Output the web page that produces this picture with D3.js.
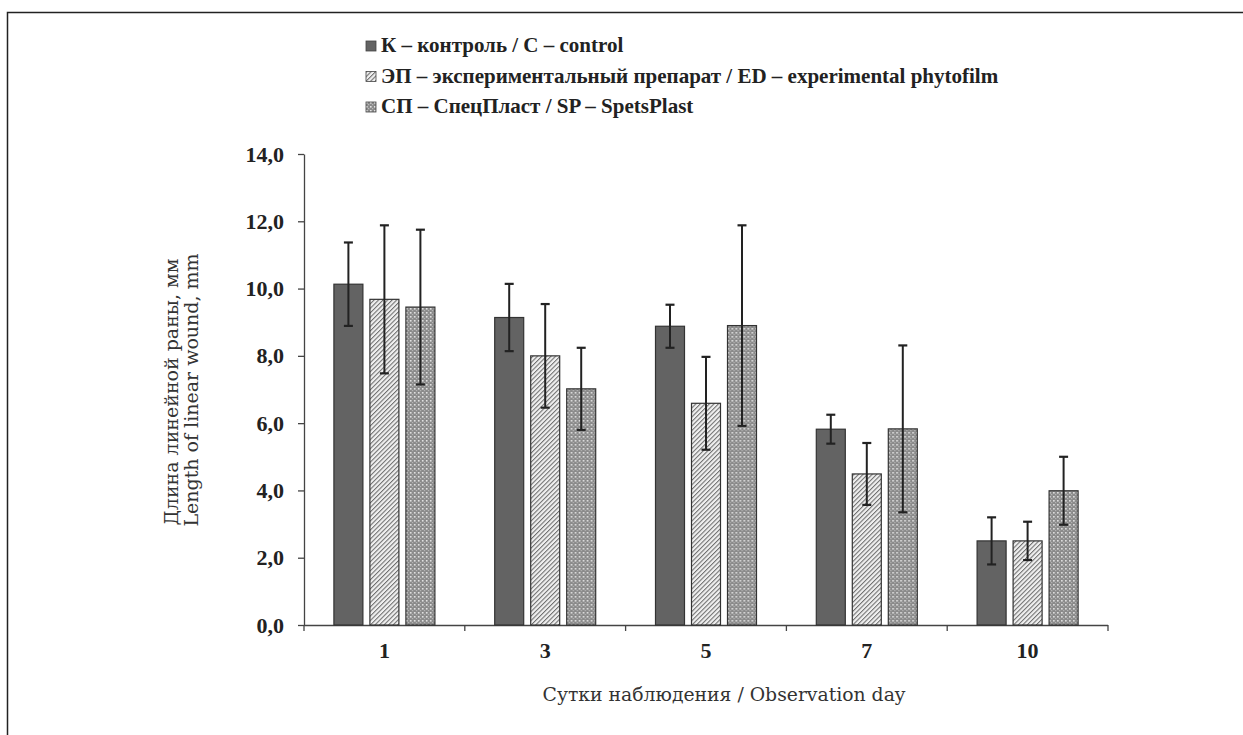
<!DOCTYPE html>
<html><head><meta charset="utf-8">
<script src="https://cdn.jsdelivr.net/npm/d3@7"></script>
<style>body{margin:0;background:#fff}svg{display:block}</style>
</head><body>
<script>
const categories = ["1","3","5","7","10"];
const seriesNames = ["К – контроль / С – control","ЭП – экспериментальный препарат / ED – experimental phytofilm","СП – СпецПласт / SP – SpetsPlast"];
const seriesKeys = ["C","ED","SP"];
const controlMean = [10.13, 9.14, 8.88, 5.82, 2.50];
const controlErr  = [1.24, 1.00, 0.64, 0.43, 0.70];
const edMean = [9.68, 8.00, 6.59, 4.49, 2.50];
const edErr  = [2.20, 1.54, 1.38, 0.92, 0.57];
const spMean = [9.45, 7.02, 8.90, 5.83, 3.99];
const spErr  = [2.30, 1.22, 2.98, 2.48, 1.01];
const yTicks = [0,2,4,6,8,10,12,14];

const W=1243,H=735;
const svg=d3.select("body").append("svg").attr("width",W).attr("height",H);
const defs=svg.append("defs");
const hatch=defs.append("pattern").attr("id","hatch").attr("patternUnits","userSpaceOnUse")
  .attr("width",3.2).attr("height",3.2).attr("patternTransform","rotate(45)");
hatch.append("rect").attr("width",3.2).attr("height",3.2).attr("fill","#f0f0f0");
hatch.append("line").attr("x1",0.5).attr("y1",0).attr("x2",0.5).attr("y2",3.2).attr("stroke","#6e6e6e").attr("stroke-width",1.1);
const dots=defs.append("pattern").attr("id","dots").attr("patternUnits","userSpaceOnUse").attr("width",4).attr("height",4);
dots.append("rect").attr("width",4).attr("height",4).attr("fill","#8a8a8a");
dots.append("rect").attr("x",0).attr("y",0).attr("width",1.6).attr("height",1.6).attr("fill","#e4e4e4");
dots.append("rect").attr("x",2).attr("y",2).attr("width",1.2).attr("height",1.2).attr("fill","#b8b8b8");
const fills={C:"#636363",ED:"url(#hatch)",SP:"url(#dots)"};

// frame
svg.append("path").attr("d",`M7.5,${H} V12.5 H${W}`).attr("fill","none").attr("stroke","#222").attr("stroke-width",1.5);

const x0=d3.scaleBand().domain(categories).range([304,1108]).padding(0);
const groupW=101;
const x1=d3.scaleBand().domain(seriesKeys).range([0,groupW]).paddingInner(7/36).paddingOuter(0);
const y=d3.scaleLinear().domain([0,14]).range([625,154]);

const serif="'Liberation Serif','Times New Roman',serif";

// y axis
const ya=svg.append("g").attr("transform","translate(304,0)")
  .call(d3.axisLeft(y).tickValues(yTicks).tickSize(6).tickSizeOuter(0).tickFormat(d=>d.toFixed(1).replace(".",",")));
ya.select(".domain").attr("stroke","#444").attr("stroke-width",1.3);
ya.selectAll(".tick line").attr("stroke","#444").attr("stroke-width",1.3);
ya.selectAll("text").attr("font-family",serif).attr("font-weight","bold").attr("font-size",22).attr("fill","#222").attr("dx",-11);

// x axis
svg.append("line").attr("x1",304).attr("x2",1108).attr("y1",625.5).attr("y2",625.5).attr("stroke","#444").attr("stroke-width",1.3);
const bounds=categories.map(c=>x0(c)).concat([x0(categories[categories.length-1])+x0.bandwidth()]);
svg.selectAll(".xt").data(bounds).join("line").attr("x1",d=>d).attr("x2",d=>d).attr("y1",625).attr("y2",631)
  .attr("stroke","#444").attr("stroke-width",1.3);
svg.selectAll(".xl").data(categories).join("text")
  .attr("x",d=>x0(d)+x0.bandwidth()/2).attr("y",658).attr("text-anchor","middle")
  .attr("font-family",serif).attr("font-weight","bold").attr("font-size",22).attr("fill","#222").text(d=>d);

const rows=categories.map((c,i)=>({c,vals:[
  {k:"C",m:controlMean[i],e:controlErr[i]},
  {k:"ED",m:edMean[i],e:edErr[i]},
  {k:"SP",m:spMean[i],e:spErr[i]}]}));
const off=(x0.bandwidth()-groupW)/2;
const g=svg.selectAll(".grp").data(rows).join("g").attr("transform",d=>`translate(${x0(d.c)+off},0)`);
g.selectAll("rect").data(d=>d.vals).join("rect")
  .attr("x",d=>x1(d.k)).attr("width",x1.bandwidth())
  .attr("y",d=>y(d.m)).attr("height",d=>y(0)-y(d.m))
  .attr("fill",d=>fills[d.k]).attr("stroke","#333").attr("stroke-width",1.2);
const eb=g.selectAll(".eb").data(d=>d.vals).join("g");
eb.append("line").attr("x1",d=>x1(d.k)+x1.bandwidth()/2).attr("x2",d=>x1(d.k)+x1.bandwidth()/2)
  .attr("y1",d=>y(d.m+d.e)).attr("y2",d=>y(d.m-d.e)).attr("stroke","#222").attr("stroke-width",2);
eb.append("line").attr("x1",d=>x1(d.k)+x1.bandwidth()/2-4.5).attr("x2",d=>x1(d.k)+x1.bandwidth()/2+4.5)
  .attr("y1",d=>y(d.m+d.e)).attr("y2",d=>y(d.m+d.e)).attr("stroke","#222").attr("stroke-width",2.2);
eb.append("line").attr("x1",d=>x1(d.k)+x1.bandwidth()/2-4.5).attr("x2",d=>x1(d.k)+x1.bandwidth()/2+4.5)
  .attr("y1",d=>y(d.m-d.e)).attr("y2",d=>y(d.m-d.e)).attr("stroke","#222").attr("stroke-width",2.2);

// legend
const lg=svg.selectAll(".lg").data(seriesKeys).join("g").attr("transform",(d,i)=>`translate(366,${41+i*30.5})`);
lg.append("rect").attr("width",10).attr("height",10).attr("fill",d=>fills[d]).attr("stroke","#444").attr("stroke-width",0.8);
lg.append("text").attr("x",15).attr("y",11).attr("font-family",serif).attr("font-weight","bold").attr("font-size",21)
  .attr("fill","#222").text((d,i)=>seriesNames[i]);

// axis titles
svg.append("text").attr("transform","translate(178,392) rotate(-90)").attr("text-anchor","middle")
  .attr("font-family","'DejaVu Serif',serif").attr("font-size",19).attr("fill","#333").text("Длина линейной раны, мм");
svg.append("text").attr("transform","translate(198,390) rotate(-90)").attr("text-anchor","middle")
  .attr("font-family","'DejaVu Serif',serif").attr("font-size",19).attr("fill","#333").text("Length of linear wound, mm");
svg.append("text").attr("x",724).attr("y",701).attr("text-anchor","middle")
  .attr("font-family","'DejaVu Serif',serif").attr("font-size",18.8).attr("fill","#333").text("Сутки наблюдения / Observation day");
</script>
</body></html>
